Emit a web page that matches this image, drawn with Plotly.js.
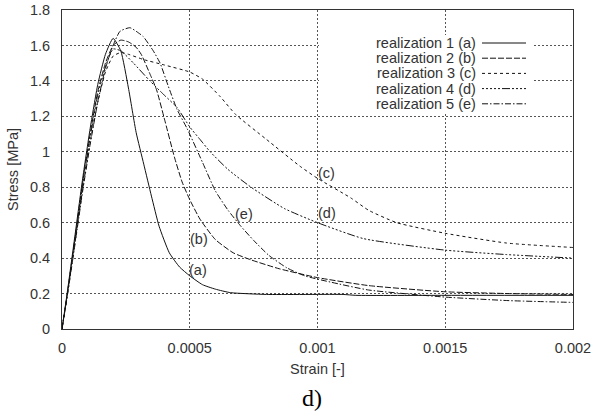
<!DOCTYPE html>
<html>
<head>
<meta charset="utf-8">
<script src="https://cdn.plot.ly/plotly-3.0.1.min.js"></script>
<style>
  html, body { margin: 0; padding: 0; background: #fff; }
  #chart { width: 595px; height: 413px; }
</style>
</head>
<body>
<div id="chart"></div>
<script>
// Stress-strain curves of five realizations (strain [-], stress [MPa])
const strainA = [0, 0.00002, 0.00005, 0.00008, 0.00011, 0.00014, 0.00017, 0.0002, 0.00023, 0.00026, 0.00029, 0.00032, 0.00035, 0.00038, 0.00042, 0.00046, 0.0005, 0.00055, 0.0006, 0.00066, 0.0008, 0.0011, 0.00115, 0.0015, 0.002];
const stressA = [0, 0.2, 0.52, 0.84, 1.13, 1.38, 1.55, 1.64, 1.57, 1.36, 1.11, 0.93, 0.75, 0.58, 0.43, 0.35, 0.30, 0.25, 0.225, 0.205, 0.195, 0.195, 0.19, 0.19, 0.19];

const strainB = [0, 0.00002, 0.00005, 0.00008, 0.00011, 0.00014, 0.00017, 0.0002, 0.00023, 0.00026, 0.00029, 0.00031, 0.000344, 0.00037, 0.0004, 0.00044, 0.00047, 0.0005, 0.00054, 0.0006, 0.00067, 0.00074, 0.00085, 0.001, 0.0012, 0.0015, 0.00175, 0.002];
const stressB = [0, 0.19, 0.5, 0.82, 1.1, 1.34, 1.5, 1.6, 1.63, 1.62, 1.59, 1.55, 1.44, 1.35, 1.19, 0.97, 0.83, 0.73, 0.62, 0.505, 0.43, 0.39, 0.34, 0.29, 0.245, 0.21, 0.2, 0.195];

const strainC = [0, 0.00002, 0.00005, 0.00008, 0.00011, 0.00014, 0.00017, 0.0002, 0.00023, 0.00026, 0.00032, 0.0004, 0.0005, 0.00055, 0.00062, 0.00068, 0.0008, 0.00093, 0.001, 0.00113, 0.0012, 0.00131, 0.0015, 0.00174, 0.002];
const stressC = [0, 0.18, 0.48, 0.78, 1.05, 1.28, 1.45, 1.54, 1.56, 1.55, 1.52, 1.49, 1.45, 1.41, 1.31, 1.21, 1.07, 0.92, 0.85, 0.74, 0.67, 0.60, 0.54, 0.485, 0.46];

const strainD = [0, 0.00002, 0.00005, 0.00008, 0.00011, 0.00014, 0.00017, 0.0002, 0.00023, 0.00028, 0.000344, 0.0004, 0.00045, 0.0005, 0.00054, 0.00058, 0.00065, 0.00074, 0.00087, 0.001, 0.00118, 0.0015, 0.00174, 0.002];
const stressD = [0, 0.19, 0.5, 0.8, 1.08, 1.32, 1.48, 1.58, 1.57, 1.5, 1.40, 1.32, 1.25, 1.14, 1.07, 1.0, 0.9, 0.80, 0.68, 0.6, 0.51, 0.445, 0.42, 0.40];

const strainE = [0, 0.00002, 0.00005, 0.00008, 0.00011, 0.00014, 0.00017, 0.0002, 0.000227, 0.000266, 0.0003, 0.000318, 0.000357, 0.000384, 0.000416, 0.00045, 0.00049, 0.00055, 0.0006, 0.00065, 0.0007, 0.00075, 0.00081, 0.00088, 0.00095, 0.00105, 0.0012, 0.0015, 0.00175, 0.002];
const stressE = [0, 0.18, 0.47, 0.77, 1.04, 1.28, 1.47, 1.6, 1.68, 1.70, 1.67, 1.65, 1.57, 1.50, 1.37, 1.24, 1.13, 0.94, 0.78, 0.67, 0.58, 0.50, 0.415, 0.345, 0.30, 0.265, 0.22, 0.18, 0.16, 0.15];

const seriesNames = ['realization 1 (a)', 'realization 2 (b)', 'realization 3 (c)', 'realization 4 (d)', 'realization 5 (e)'];
const curveLabels = ['(a)', '(b)', '(c)', '(d)', '(e)'];
const labelStrain = [0.000532, 0.000536, 0.001037, 0.001037, 0.000712];
const labelStress = [0.333, 0.51, 0.88, 0.655, 0.65];

const xTickVals = [0, 0.0005, 0.001, 0.0015, 0.002];
const xTickText = ['0', '0.0005', '0.001', '0.0015', '0.002'];
const yTickVals = [0, 0.2, 0.4, 0.6, 0.8, 1, 1.2, 1.4, 1.6, 1.8];
const yTickText = ['0', '0.2', '0.4', '0.6', '0.8', '1', '1.2', '1.4', '1.6', '1.8'];

// gnuplot-like line styles
const dashes = [
  'solid',
  '6px,2px',
  '3px,3px',
  '2px,2px,2px,2px,2px,2px,2px,2px,2px,2px,8px,2px',
  '6px,2px,1.5px,2px'
];

const xs = [strainA, strainB, strainC, strainD, strainE];
const ys = [stressA, stressB, stressC, stressD, stressE];

const traces = xs.map((x, i) => ({
  type: 'scatter',
  mode: 'lines',
  x: x,
  y: ys[i],
  name: seriesNames[i],
  showlegend: false,
  line: { color: '#111', width: 1, dash: dashes[i], shape: 'spline', smoothing: 0.5 }
}));

// plot-area geometry in pixels
const W = 595, H = 413;
const M = { l: 62, r: 22, t: 10, b: 84 };
const pw = W - M.l - M.r, ph = H - M.t - M.b;
const px = v => (v - M.l) / pw;          // pixel x -> paper x
const py = v => (H - M.b - v) / ph;      // pixel y -> paper y

const textFont = { family: 'Liberation Sans, Arial, sans-serif', size: 14.5, color: '#333' };

const annotations = curveLabels.map((t, i) => ({
  x: labelStrain[i], y: labelStress[i], xref: 'x', yref: 'y',
  text: t, showarrow: false, font: textFont, xanchor: 'center', yanchor: 'middle'
}));

// key: opaque box, text right-aligned, line sample to the right
const keyRows = [43, 58.2, 73.4, 88.6, 103.8];
const shapes = [{
  type: 'rect', xref: 'paper', yref: 'paper', layer: 'above',
  x0: px(319), x1: px(533), y0: py(112), y1: py(35),
  fillcolor: '#fff', line: { width: 0 }
}];
seriesNames.forEach((n, i) => {
  annotations.push({
    x: px(477), y: py(keyRows[i]), xref: 'paper', yref: 'paper',
    text: n, showarrow: false, xanchor: 'right', yanchor: 'middle', borderpad: 0,
    font: { family: textFont.family, size: 14.5, color: '#333' }
  });
  shapes.push({
    type: 'line', xref: 'paper', yref: 'paper', layer: 'above',
    x0: px(482), x1: px(526), y0: py(keyRows[i]), y1: py(keyRows[i]),
    line: { color: '#111', width: 1, dash: dashes[i] }
  });
});

annotations.push({
  x: px(312), y: py(398), xref: 'paper', yref: 'paper',
  text: 'd)', showarrow: false, xanchor: 'center', yanchor: 'middle',
  font: { family: 'Liberation Serif, Times New Roman, serif', size: 24, color: '#000' }
});

const axisCommon = {
  showgrid: true, gridcolor: '#555', griddash: '2px,2px', gridwidth: 1,
  showline: true, mirror: true, linecolor: '#333', linewidth: 1,
  zeroline: false, ticks: '', tickfont: textFont, automargin: false,
  ticklabelstandoff: 8
};

const layout = {
  width: W, height: H,
  margin: M,
  paper_bgcolor: '#fff', plot_bgcolor: '#fff',
  showlegend: false,
  xaxis: Object.assign({}, axisCommon, {
    range: [0, 0.002], tickmode: 'array', tickvals: xTickVals, ticktext: xTickText,
    ticklabelstandoff: 6,
    title: { text: 'Strain [-]', font: textFont, standoff: 8 }
  }),
  yaxis: Object.assign({}, axisCommon, {
    range: [0, 1.8], tickmode: 'array', tickvals: yTickVals, ticktext: yTickText,
    title: { text: 'Stress [MPa]', font: textFont, standoff: 7 }
  }),
  annotations: annotations,
  shapes: shapes
};

Plotly.newPlot('chart', traces, layout, { displayModeBar: false, staticPlot: true });
</script>
</body>
</html>
